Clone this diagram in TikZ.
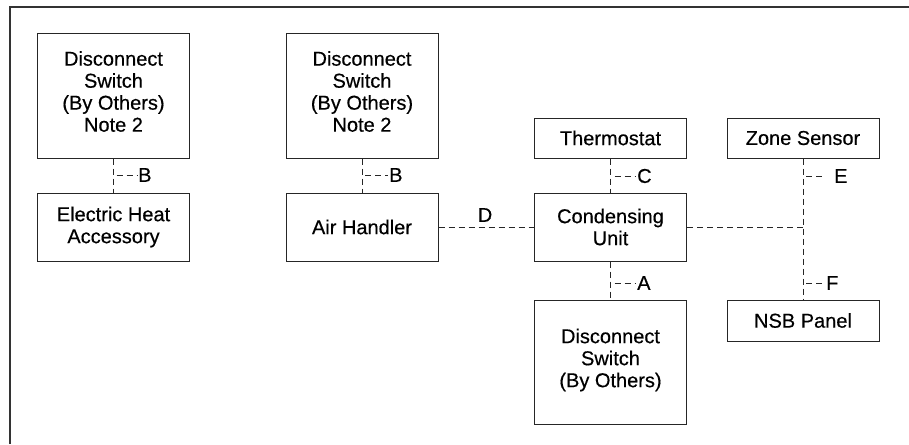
\documentclass[tikz,border=0pt]{standalone}
\usepackage{fontspec}
\setmainfont[FakeBold=0.4]{Liberation Sans}
\begin{document}
\begin{tikzpicture}[x=1pt,y=-1pt,
  txt/.style={inner sep=0pt, align=center, font=\fontsize{20}{22}\selectfont},
  box/.style={txt, draw=black!85, line width=1pt, minimum width=152pt},
  wire/.style={draw=black!85, line width=0.9pt, dash pattern=on 6pt off 4pt},
  lbl/.style={inner sep=1pt, font=\fontsize{20}{22}\selectfont},
  frame/.style={draw=black!80, line width=1.3pt}]
\useasboundingbox (0,0) rectangle (909,444);
\draw[frame] (10,444) -- (10,7) -- (909,7);
% boxes
\node[box, minimum height=124pt] (ds1) at (113.5,96) {};
\node[txt] (ds1t) at (113.5,91.5) {Disconnect\\Switch\\(By Others)\\Note 2};
\node[box, minimum height=68pt] (eha) at (113.5,227) {Electric Heat\\Accessory};
\node[box, minimum height=124pt] (ds2) at (362,96) {};
\node[txt] (ds2t) at (362,91.5) {Disconnect\\Switch\\(By Others)\\Note 2};
\node[box, minimum height=68pt] (ah) at (362,227) {Air Handler};
\node[box, minimum height=40pt] (th) at (610.5,138) {Thermostat};
\node[box, minimum height=40pt] (zs) at (803,138) {Zone Sensor};
\node[box, minimum height=68pt] (cu) at (610.5,227) {Condensing\\Unit};
\node[box, minimum height=124pt] (ds3) at (610.5,362) {};
\node[txt] (ds3t) at (610.5,360) {Disconnect\\Switch\\(By Others)};
\node[box, minimum height=41pt] (nsb) at (803,320.5) {NSB Panel};
% connectors
\draw[wire] (ds1.south) -- (eha.north);
\draw[wire] (ds2.south) -- (ah.north);
\draw[wire] (th.south) -- (cu.north);
\draw[wire] (cu.south) -- (ds3.north);
\draw[wire] (zs.south) -- (nsb.north);
\coordinate (j) at (zs.south |- cu.east);
\draw[wire] (cu.east) -- (j);
\draw[wire] (ah.east) -- (cu.west);
% labels
\coordinate (cb1) at (ds1.south |- 0,175);
\coordinate (cb2) at (ds2.south |- 0,175);
\coordinate (cc) at (th.south |- 0,176);
\coordinate (ce) at (zs.south |- 0,176);
\coordinate (ca) at (cu.south |- 0,283);
\coordinate (cf) at (zs.south |- 0,283);
\node[lbl, anchor=west] (lb1) at (137,175) {B};
\node[lbl, anchor=west] (lb2) at (388,175) {B};
\node[lbl, anchor=west] (lc) at (636,176) {C};
\node[lbl, anchor=west] (le) at (833,176) {E};
\node[lbl, anchor=west] (la) at (636,283) {A};
\node[lbl, anchor=west] (lf) at (825,283) {F};
\node[lbl] (ld) at (485,215) {D};
\draw[wire] ([xshift=3pt]cb1) -- (lb1.west);
\draw[wire] ([xshift=3pt]cb2) -- (lb2.west);
\draw[wire] ([xshift=4pt]cc) -- (lc.west);
\draw[wire] ([xshift=3pt]ce) -- ([xshift=-8pt]le.west);
\draw[wire] ([xshift=4pt]ca) -- (la.west);
\draw[wire] ([xshift=3pt]cf) -- (lf.west);
\end{tikzpicture}
\end{document}
